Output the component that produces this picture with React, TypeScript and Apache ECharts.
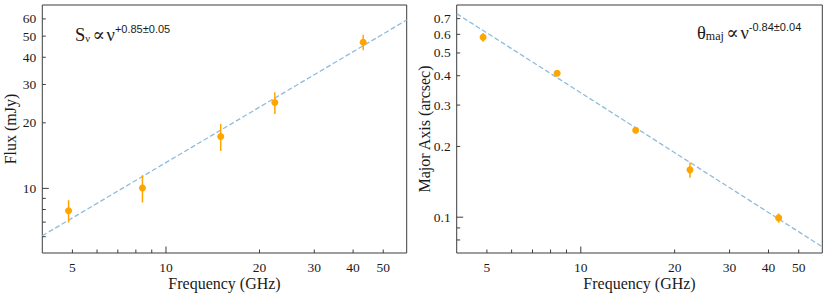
import React, { useEffect, useRef } from "react";
import * as echarts from "echarts";

// ---------- data ----------
const frequencies = [4.86, 8.4, 15, 22.4, 43.1]; // GHz
const fluxValues = [7.9, 10.05, 17.3, 24.8, 46.9]; // mJy
const fluxErrors = [0.93, 1.44, 2.45, 2.85, 3.85];
const majorAxisValues = [0.583, 0.41, 0.2345, 0.159, 0.0993]; // arcsec
const majorAxisErrors = [0.025, 0.005, 0.007, 0.012, 0.0045];

// fitted power laws, endpoints read at the frame edges
const fitFreqs = [4, 59.5];
const fluxFit = [6.06, 59.3];
const majorAxisFit = [0.735, 0.0748];

// axis ranges
const xRange = [4, 59.5];
const fluxRange = [5.05, 69.5];
const majorRange = [0.0704, 0.8];

// ticks
const xMajorTicks = [10];
const xMinorTicks = [5, 6, 7, 8, 9, 20, 30, 40, 50];
const xTickLabels = [5, 10, 20, 30, 40, 50];
const fluxMajorTicks = [10];
const fluxMinorTicks = [6, 7, 8, 9, 20, 30, 40, 50, 60];
const fluxTickLabels = [10, 20, 30, 40, 50, 60];
const majorMajorTicks = [0.1];
const majorMinorTicks = [0.08, 0.09, 0.2, 0.3, 0.4, 0.5, 0.6, 0.7];
const majorTickLabels = [0.1, 0.2, 0.3, 0.4, 0.5, 0.6, 0.7];

const SERIF = "'Liberation Serif', 'DejaVu Serif', serif";
const SANS = "'Liberation Sans', 'DejaVu Sans', sans-serif";
const FRAME = "#3d3d3d";
const TEXT = "#1a1a1a";
const ORANGE = "#FFA500";
const FITBLUE = "#8fbcdc";

function xTickSeries(gi: number, yMin: number, majors: number[], minors: number[], labels: number[]) {
  const data = [
    ...majors.map((v) => [v, yMin, 1, labels.includes(v) ? 1 : 0]),
    ...minors.map((v) => [v, yMin, 0, labels.includes(v) ? 1 : 0]),
  ];
  return {
    type: "custom",
    xAxisIndex: gi,
    yAxisIndex: gi,
    data,
    silent: true,
    clip: false,
    z: 5,
    renderItem: (_p: any, api: any) => {
      const v = api.value(0);
      const pt = api.coord([v, api.value(1)]);
      const len = api.value(2) ? 6.5 : 3.5;
      const children: any[] = [
        {
          type: "line",
          shape: { x1: pt[0], y1: pt[1], x2: pt[0], y2: pt[1] - len },
          style: { stroke: FRAME, lineWidth: 1 },
        },
      ];
      if (api.value(3)) {
        children.push({
          type: "text",
          style: {
            text: String(v),
            x: pt[0],
            y: pt[1] + 7,
            align: "center",
            verticalAlign: "top",
            fontFamily: SERIF,
            fontSize: 13.5,
            fill: TEXT,
          },
        });
      }
      return { type: "group", children };
    },
  };
}

function yTickSeries(gi: number, xMin: number, majors: number[], minors: number[], labels: number[]) {
  const data = [
    ...majors.map((v) => [xMin, v, 1, labels.includes(v) ? 1 : 0]),
    ...minors.map((v) => [xMin, v, 0, labels.includes(v) ? 1 : 0]),
  ];
  return {
    type: "custom",
    xAxisIndex: gi,
    yAxisIndex: gi,
    data,
    silent: true,
    clip: false,
    z: 5,
    renderItem: (_p: any, api: any) => {
      const v = api.value(1);
      const pt = api.coord([api.value(0), v]);
      const len = api.value(2) ? 6.5 : 3.5;
      const children: any[] = [
        {
          type: "line",
          shape: { x1: pt[0], y1: pt[1], x2: pt[0] + len, y2: pt[1] },
          style: { stroke: FRAME, lineWidth: 1 },
        },
      ];
      if (api.value(3)) {
        children.push({
          type: "text",
          style: {
            text: String(v),
            x: pt[0] - 6,
            y: pt[1],
            align: "right",
            verticalAlign: "middle",
            fontFamily: SERIF,
            fontSize: 13.5,
            fill: TEXT,
          },
        });
      }
      return { type: "group", children };
    },
  };
}

function errorBarSeries(gi: number, xs: number[], ys: number[], errs: number[]) {
  return {
    type: "custom",
    xAxisIndex: gi,
    yAxisIndex: gi,
    data: xs.map((x, i) => [x, ys[i], errs[i]]),
    silent: true,
    z: 3,
    renderItem: (_p: any, api: any) => {
      const x = api.value(0);
      const y = api.value(1);
      const e = api.value(2);
      const lo = api.coord([x, y - e]);
      const hi = api.coord([x, y + e]);
      return {
        type: "line",
        shape: { x1: lo[0], y1: lo[1], x2: hi[0], y2: hi[1] },
        style: { stroke: ORANGE, lineWidth: 1.5 },
      };
    },
  };
}

function fitSeries(gi: number, ys: number[]) {
  return {
    type: "line",
    xAxisIndex: gi,
    yAxisIndex: gi,
    data: fitFreqs.map((x, i) => [x, ys[i]]),
    showSymbol: false,
    symbol: "none",
    silent: true,
    z: 2,
    lineStyle: { color: FITBLUE, width: 1.3, type: [5, 2.5] },
  };
}

function pointSeries(gi: number, xs: number[], ys: number[]) {
  return {
    type: "scatter",
    xAxisIndex: gi,
    yAxisIndex: gi,
    data: xs.map((x, i) => [x, ys[i]]),
    symbol: "circle",
    symbolSize: 7,
    silent: true,
    z: 4,
    itemStyle: { color: ORANGE, opacity: 1 },
  };
}

function xAxisCfg(gi: number) {
  return {
    type: "log",
    logBase: 10,
    gridIndex: gi,
    min: xRange[0],
    max: xRange[1],
    axisLine: { show: false },
    axisTick: { show: false },
    axisLabel: { show: false },
    splitLine: { show: false },
    name: "Frequency (GHz)",
    nameLocation: "middle",
    nameGap: 22,
    nameTextStyle: { fontFamily: SERIF, fontSize: 16, color: TEXT },
  };
}

function yAxisCfg(gi: number, range: number[], name: string) {
  return {
    type: "log",
    logBase: 10,
    gridIndex: gi,
    min: range[0],
    max: range[1],
    axisLine: { show: false },
    axisTick: { show: false },
    axisLabel: { show: false },
    splitLine: { show: false },
    name,
    nameLocation: "middle",
    nameGap: 24,
    nameTextStyle: { fontFamily: SERIF, fontSize: 16, color: TEXT },
  };
}

export default function App() {
  const ref = useRef<HTMLDivElement>(null);

  useEffect(() => {
    if (!ref.current) return;
    const chart = echarts.init(ref.current, null, { renderer: "svg", width: 830, height: 296 });

    const mainStyle = { fontFamily: SERIF, fontSize: 18.5, lineHeight: 21, verticalAlign: "bottom" };
    const option: any = {
      animation: false,
      backgroundColor: "#ffffff",
      grid: [
        { left: 42.3, top: 5, width: 364.4, height: 249.3, show: true, borderColor: FRAME, borderWidth: 1, backgroundColor: "transparent" },
        { left: 456.7, top: 5, width: 365.6, height: 249.3, show: true, borderColor: FRAME, borderWidth: 1, backgroundColor: "transparent" },
      ],
      xAxis: [xAxisCfg(0), xAxisCfg(1)],
      yAxis: [yAxisCfg(0, fluxRange, "Flux (mJy)"), yAxisCfg(1, majorRange, "Major Axis (arcsec)")],
      series: [
        fitSeries(0, fluxFit),
        errorBarSeries(0, frequencies, fluxValues, fluxErrors),
        pointSeries(0, frequencies, fluxValues),
        xTickSeries(0, fluxRange[0], xMajorTicks, xMinorTicks, xTickLabels),
        yTickSeries(0, xRange[0], fluxMajorTicks, fluxMinorTicks, fluxTickLabels),
        fitSeries(1, majorAxisFit),
        errorBarSeries(1, frequencies, majorAxisValues, majorAxisErrors),
        pointSeries(1, frequencies, majorAxisValues),
        xTickSeries(1, majorRange[0], xMajorTicks, xMinorTicks, xTickLabels),
        yTickSeries(1, xRange[0], majorMajorTicks, majorMinorTicks, majorTickLabels),
      ],
      graphic: [
        {
          type: "text",
          left: 75,
          top: 23,
          style: {
            text: "{m|S}{sub|ν}{rel|∝}{m|ν}{sup|+0.85±0.05}",
            fill: TEXT,
            rich: {
              m: mainStyle,
              rel: { ...mainStyle, padding: [0, 1.5, 0, 1.5] },
              sub: { fontFamily: SERIF, fontSize: 10.5, lineHeight: 12, verticalAlign: "bottom", padding: [0, 1, 0, 0] },
              sup: { fontFamily: SANS, fontSize: 11, lineHeight: 13, verticalAlign: "top" },
            },
          },
        },
        {
          type: "text",
          left: 697,
          top: 21,
          style: {
            text: "{m|θ}{sub|maj}{rel|∝}{m|ν}{sup|-0.84±0.04}",
            fill: TEXT,
            rich: {
              m: mainStyle,
              rel: { ...mainStyle, padding: [0, 1.5, 0, 1.5] },
              sub: { fontFamily: SERIF, fontSize: 12, lineHeight: 12, verticalAlign: "bottom", padding: [0, 1, 0, 0] },
              sup: { fontFamily: SANS, fontSize: 11, lineHeight: 13, verticalAlign: "top" },
            },
          },
        },
      ],
    };

    chart.setOption(option);
    return () => chart.dispose();
  }, []);

  return (
    <div
      ref={ref}
      style={{ position: "fixed", left: 0, top: 0, width: 830, height: 296, background: "#fff" }}
    />
  );
}
